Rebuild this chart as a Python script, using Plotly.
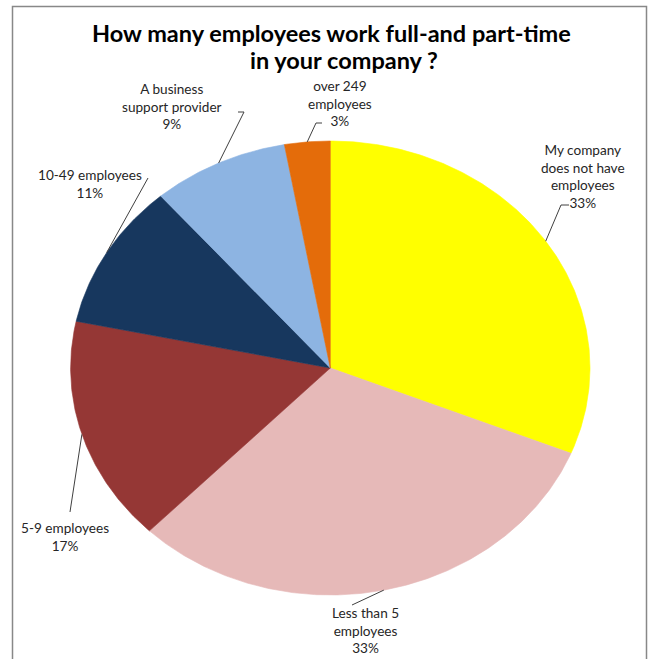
import numpy as np
import plotly.graph_objects as go

# Survey answers, in clockwise order starting at 12 o'clock
categories = [
    "My company<br>does not have<br>employees",
    "Less than 5<br>employees",
    "5-9 employees",
    "10-49 employees",
    "A business<br>support provider",
    "over 249<br>employees",
]
values = [33, 33, 17, 11, 9, 3]
colors = ["#FFFF00", "#E6B9B8", "#953735", "#17375E", "#8DB4E2", "#E46C0A"]

title_lines = ["How many employees work full-and part-time", "in your company ?"]

# Canvas in pixel units (y grows downward)
W, H = 649, 659
CX, CY, RX, RY = 330.3, 368.0, 259.7, 227.0

# Data-label block centres and the label end of each leader line
label_pos = [(583, 176), (365, 630), (65, 537), (90, 184), (172, 106), (340, 103)]
leader_start = [
    [(569, 205), (561, 205)],
    [(352, 605)],
    [(70, 512)],
    [(148, 178)],
    [(238, 112), (244, 112)],
    [(322, 123), (316, 123)],
]


def ellipse_point(theta):
    """Point on the pie rim; theta in degrees, clockwise from 12 o'clock."""
    t = np.radians(theta)
    return CX + RX * np.sin(t), CY - RY * np.cos(t)


fig = go.Figure()

total = float(sum(values))
start = 0.0
mids = []
for val, col in zip(values, colors):
    span = 360.0 * val / total
    th = np.linspace(start, start + span, max(int(span * 2), 8))
    xs, ys = ellipse_point(th)
    px = np.concatenate([[CX], xs, [CX]])
    py = np.concatenate([[CY], ys, [CY]])
    fig.add_trace(go.Scatter(
        x=px, y=py, mode="lines", fill="toself", fillcolor=col,
        line=dict(color=col, width=0.6), hoverinfo="skip", showlegend=False,
    ))
    mids.append(start + span / 2)
    start += span

# Leader lines from each label to the middle of its slice's rim
for pts, mid in zip(leader_start, mids):
    ex, ey = ellipse_point(mid)
    xs = [p[0] for p in pts] + [ex]
    ys = [p[1] for p in pts] + [ey]
    fig.add_trace(go.Scatter(
        x=xs, y=ys, mode="lines", line=dict(color="#404040", width=1),
        hoverinfo="skip", showlegend=False,
    ))

annotations = []
for cat, val, (lx, ly) in zip(categories, values, label_pos):
    annotations.append(dict(
        x=lx, y=ly, xref="x", yref="y", text=f"{cat}<br>{val}%",
        showarrow=False, xanchor="center", yanchor="middle", align="center",
        font=dict(family="Lato, Carlito, sans-serif", size=13.6, color="#262626"),
    ))

annotations.append(dict(
    x=331, y=33, xref="x", yref="y", text=f"<b>{title_lines[0]}</b>",
    showarrow=False, xanchor="center", yanchor="middle",
    font=dict(family="Lato, Carlito, sans-serif", size=23.5, color="#000000"),
))
annotations.append(dict(
    x=344, y=60, xref="x", yref="y", text=f"<b>{title_lines[1]}</b>",
    showarrow=False, xanchor="center", yanchor="middle",
    font=dict(family="Lato, Carlito, sans-serif", size=23.5, color="#000000"),
))

fig.update_layout(
    width=W, height=H,
    margin=dict(l=0, r=0, t=0, b=0),
    paper_bgcolor="white", plot_bgcolor="white",
    showlegend=False, hovermode=False,
    xaxis=dict(range=[0, W], visible=False, fixedrange=True),
    yaxis=dict(range=[H, 0], visible=False, fixedrange=True),
    annotations=annotations,
    shapes=[dict(
        type="rect", xref="x", yref="y", x0=12.5, y0=6.5, x1=646.5, y1=675,
        line=dict(color="#888888", width=1.5), fillcolor="rgba(0,0,0,0)",
    )],
)

fig.write_html("out.html")
